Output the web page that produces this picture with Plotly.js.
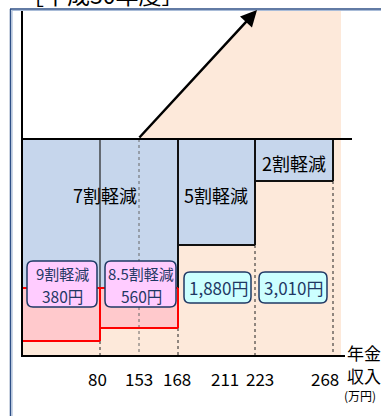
<!DOCTYPE html>
<html>
<head>
<meta charset="utf-8">
<script src="https://cdn.plot.ly/plotly-3.0.1.min.js"></script>
<style>
  html, body { margin: 0; padding: 0; background: #fff; }
  #chart { width: 381px; height: 416px; }
</style>
</head>
<body>
<div id="chart"></div>
<script>
// values
const chartTitle = "［平成30年度］";
const incomeTicks = ["80", "153", "168", "211", "223", "268"];
const reliefTiers = ["9割軽減", "8.5割軽減", "7割軽減", "5割軽減", "2割軽減"];
const premiums = ["380円", "560円", "1,880円", "3,010円"];
const axisName = ["年金", "収入", "(万円)"];

// schematic layout (pixel-like units, y grows downward)
const tickX = [97, 139, 177, 225, 260, 325];
const edge = { left: 22, top: 10, base: 356, flat: 139, right: 341 };
const bounds = [22, 100, 178, 255, 333];
const FONT = "Noto Sans CJK JP";
const NAVY = "#1F3864";

function rect(x0, x1, y0, y1, fill, line) {
  return {
    type: "rect", x0, x1, y0, y1, xref: "x", yref: "y",
    fillcolor: fill, line: line || { width: 0 }, layer: "below",
  };
}

function seg(x0, y0, x1, y1, color, width, dash) {
  return {
    type: "line", x0, y0, x1, y1, xref: "x", yref: "y",
    line: { color, width, dash: dash || "solid" },
  };
}

function roundBox(x0, x1, y0, y1, fill) {
  const r = 6;
  const path = `M ${x0 + r} ${y0} L ${x1 - r} ${y0} Q ${x1} ${y0} ${x1} ${y0 + r} ` +
    `L ${x1} ${y1 - r} Q ${x1} ${y1} ${x1 - r} ${y1} L ${x0 + r} ${y1} ` +
    `Q ${x0} ${y1} ${x0} ${y1 - r} L ${x0} ${y0 + r} Q ${x0} ${y0} ${x0 + r} ${y0} Z`;
  return { type: "path", path, xref: "x", yref: "y", fillcolor: fill, line: { color: NAVY, width: 1.5 } };
}

const shapes = [
  // peach area
  {
    type: "path", xref: "x", yref: "y", layer: "below",
    path: `M ${edge.left} ${edge.base} L ${edge.left} ${edge.flat} L 138 ${edge.flat} L 257 ${edge.top} ` +
      `L ${edge.right} ${edge.top} L ${edge.right} ${edge.base} Z`,
    fillcolor: "#FDE9DA", line: { width: 0 },
  },
  rect(bounds[0], bounds[2], edge.flat, 288, "#C6D6EC"),
  rect(bounds[2], bounds[3], edge.flat, 245, "#C6D6EC"),
  rect(bounds[3], bounds[4], edge.flat, 181, "#C6D6EC"),
  rect(bounds[0], bounds[1], 288, 341, "#FFC9CC"),
  rect(bounds[1], bounds[2], 288, 328, "#FFC9CC"),
  // dotted guides
  seg(bounds[1], 341, bounds[1], edge.base, "#222", 1, "dot"),
  seg(139, edge.flat, 139, edge.base, "#666", 1, "dot"),
  seg(bounds[2], 328, bounds[2], edge.base, "#222", 1, "dot"),
  seg(bounds[3], 245, bounds[3], edge.base, "#222", 1, "dot"),
  seg(bounds[4], 181, bounds[4], edge.base, "#222", 1, "dot"),
  // block outlines
  seg(bounds[1], edge.flat, bounds[1], 288, "#222", 1.2),
  seg(bounds[2], edge.flat, bounds[2], 288, "#111", 2),
  seg(bounds[2], 245, bounds[3], 245, "#111", 2),
  seg(bounds[3], edge.flat, bounds[3], 245, "#111", 2),
  seg(bounds[3], 181, bounds[4], 181, "#111", 2),
  seg(bounds[4], edge.flat, bounds[4], 181, "#111", 2),
  // red boxes
  seg(bounds[0], 288, bounds[2], 288, "#FF0000", 2),
  seg(bounds[1], 288, bounds[1], 341, "#FF0000", 2),
  seg(bounds[0], 341, bounds[1], 341, "#FF0000", 2),
  seg(bounds[1], 328, bounds[2], 328, "#FF0000", 2),
  seg(bounds[2], 288, bounds[2], 328, "#FF0000", 2),
  // axes and flat line
  seg(edge.left, edge.flat, 352, edge.flat, "#000", 2),
  seg(edge.left, edge.top, edge.left, edge.base + 1, "#000", 2),
  seg(edge.left - 1, edge.base, 345, edge.base, "#000", 2),
  // outer frame
  seg(10.5, 9, 10.5, 416, "#2E4F86", 1.5),
  seg(12, 10.5, 12, 416, "#A9BCD8", 1.2),
  seg(10, 9, 381, 9, "#2E4F86", 1.5),
  seg(12, 10.5, 381, 10.5, "#A9BCD8", 1.2),
  // premium boxes
  roundBox(27, 97, 261, 307, "#FFCCFF"),
  roundBox(105, 176, 261, 307, "#FFCCFF"),
  roundBox(184, 251, 272, 303, "#CCFFFF"),
  roundBox(259, 327, 272, 303, "#CCFFFF"),
];

function label(text, x, y, size, color, xanchor) {
  return {
    text, x, y, xref: "x", yref: "y", showarrow: false, borderpad: 0,
    xanchor: xanchor || "center", yanchor: "middle",
    font: { family: FONT, size, color: color || "#000" },
  };
}

const annotations = [
  label(chartTitle, 20, 13, 23, "#000", "left"),
  label(reliefTiers[0], 62, 273, 15, NAVY),
  label(premiums[0], 62, 296, 15.5, NAVY),
  label(reliefTiers[1], 141, 273, 15, NAVY),
  label(premiums[1], 141, 296, 15.5, NAVY),
  label(premiums[2], 218, 287, 17, NAVY),
  label(premiums[3], 293, 287, 17, NAVY),
  label(reliefTiers[2], 105, 195, 18),
  label(reliefTiers[3], 216, 195, 18),
  label(reliefTiers[4], 294, 163, 18),
  label(axisName[0], 346, 352, 17, "#000", "left"),
  label(axisName[1], 346, 375, 17, "#000", "left"),
  label(axisName[2], 343, 395, 12, "#000", "left"),
  {
    text: "", x: 257, y: edge.top, ax: 138, ay: edge.flat, axref: "x", ayref: "y",
    xref: "x", yref: "y", showarrow: true, arrowhead: 2, arrowsize: 1.3,
    arrowwidth: 2.5, arrowcolor: "#000", standoff: 0,
  },
];

incomeTicks.forEach((t, i) => {
  annotations.push(label(t, tickX[i], 378, 17));
});

// title sits partly above the page, move it up
annotations[0].yanchor = "bottom";
annotations[0].y = 12;

const layout = {
  width: 381,
  height: 416,
  margin: { t: 0, r: 0, b: 0, l: 0 },
  paper_bgcolor: "#fff",
  plot_bgcolor: "#fff",
  showlegend: false,
  xaxis: { range: [0, 381], visible: false, fixedrange: true },
  yaxis: { range: [416, 0], visible: false, fixedrange: true },
  shapes,
  annotations,
};

Plotly.newPlot("chart", [{ x: [], y: [], type: "scatter", mode: "markers" }], layout, { displayModeBar: false, staticPlot: true });
</script>
</body>
</html>
